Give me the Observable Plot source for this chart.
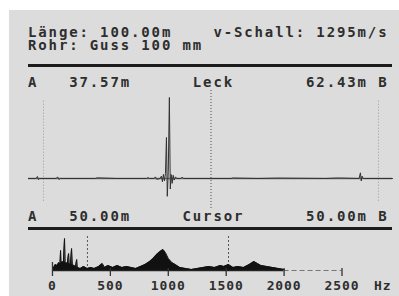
<!DOCTYPE html>
<html><head><meta charset="utf-8">
<script src="https://cdn.jsdelivr.net/npm/d3@7"></script>
<script src="https://cdn.jsdelivr.net/npm/@observablehq/plot@0.6"></script>
<style>
html,body{margin:0;padding:0;background:#fff;width:399px;height:296px;overflow:hidden;position:relative;}
#panel{position:absolute;left:9px;top:10px;width:390px;height:286px;background:#dcdcdc;}
.t{position:absolute;left:28px;font-family:"DejaVu Sans Mono",monospace;font-weight:bold;font-size:14px;line-height:14px;letter-spacing:1.87px;white-space:pre;color:#2e2e2e;}
.rule{position:absolute;left:28px;width:364px;height:3px;background:#1c1c1c;}
.plot{position:absolute;left:0;}
</style></head><body>
<div id="panel"></div>
<div class="t" style="top:26px;line-height:12.5px">Länge: 100.00m    v-Schall: 1295m/s
Rohr: Guss 100 mm</div>
<div class="rule" style="top:64px"></div>
<div class="t" style="top:75px">A   37.57m      Leck       62.43m B</div>
<div class="t" style="top:209px">A   50.00m     Cursor      50.00m B</div>
<div class="rule" style="top:227px"></div>
<div id="p1" class="plot" style="top:88px"></div>
<div id="p2" class="plot" style="top:230px"></div>
<script>
// Correlation trace: position along pipe (m) and amplitude
const waveM = [-4.48, -2.2, -1.8, -1.5, -1.2, 3.8, 4.2, 4.6, 5.0, 15.5, 16.0, 22.0, 28.5, 30.8, 31.2, 31.6, 33.0, 33.4, 33.8, 34.8, 35.2, 35.5, 35.8, 36.1, 36.4, 36.7, 36.95, 37.25, 37.57, 37.85, 38.1, 38.4, 38.7, 39.0, 39.4, 39.8, 41.0, 41.4, 41.8, 56.0, 56.4, 64.0, 70.0, 84.0, 88.0, 94.2, 94.6, 94.85, 95.1, 95.4, 104.18];
const waveV = [0, 0, 0.025, -0.015, 0, 0, 0.02, -0.012, 0, 0, 0.008, 0, 0, 0, 0.012, 0, 0, 0.02, -0.01, 0, 0.03, -0.04, 0.05, -0.03, 0.06, 0.506, -0.22, 0.09, 1.0, -0.13, 0.05, -0.06, 0.04, -0.02, 0.02, 0, 0, 0.018, 0, 0, 0.006, 0, 0.005, 0, 0.006, 0, 0.07, -0.03, 0.03, 0, 0];
const waveCursors = [0, 100];
const leakCursor = [50];

// Spectrum: frequency (Hz) and level
const specF = [0, 10, 25, 40, 55, 65, 70, 75, 85, 95, 104, 110, 120, 130, 139, 145, 155, 165, 172, 185, 200, 209, 215, 240, 270, 300, 330, 360, 400, 430, 450, 480, 520, 560, 600, 640, 680, 720, 760, 800, 840, 870, 900, 930, 955, 975, 1000, 1030, 1060, 1100, 1150, 1200, 1250, 1300, 1350, 1400, 1450, 1480, 1520, 1560, 1600, 1650, 1700, 1740, 1770, 1800, 1850, 1900, 1950, 2000];
const specA = [0, 3, 6, 5, 8, 6, 20, 7, 9, 8, 32, 9, 7, 8, 17, 7, 6, 22, 6, 5, 4, 11, 3, 2, 4, 2, 3, 2, 4, 7, 3, 5, 3, 5, 3, 4, 3, 2, 4, 6, 9, 12, 16, 19, 21, 18, 12, 8, 6, 3, 2, 1, 2, 3, 4, 3, 5, 4, 6, 3, 4, 3, 6, 9, 7, 5, 4, 3, 2, 1];
const specCursors = [302, 1520];
const tickValues = [0, 500, 1000, 1500, 2000, 2500];
const tickLabels = ["0", "500", "1000", "1500", "2000", "2500"];
const unitLabel = "Hz";

const wave = waveM.map((m, i) => ({m, v: waveV[i]}));
const spec = specF.map((f, i) => ({f, a: specA[i]}));
const ticks = tickValues.map((v, i) => ({v, label: tickLabels[i]}));

const p1 = Plot.plot({
  width: 399, height: 122, marginLeft: 28, marginRight: 7, marginTop: 0, marginBottom: 0,
  x: {domain: [-4.48, 104.18], axis: null},
  y: {domain: [-0.395, 1.111], axis: null},
  style: {background: "transparent", overflow: "visible"},
  marks: [
    Plot.ruleX(waveCursors, {y1: -0.28, y2: 0.96, stroke: "#9a9a9a", strokeDasharray: "1,2"}),
    Plot.ruleX(leakCursor, {y1: -0.37, y2: 1.11, stroke: "#4a4a4a", strokeDasharray: "1,2"}),
    Plot.ruleY([0], {stroke: "#6e6e6e", strokeWidth: 1.5}),
    Plot.line(wave, {x: "m", y: "v", stroke: "#333", strokeWidth: 1})
  ]
});
document.getElementById("p1").appendChild(p1);

const p2 = Plot.plot({
  width: 399, height: 66, marginLeft: 28, marginRight: 7, marginTop: 0, marginBottom: 0,
  x: {domain: [-207, 2936], axis: null},
  y: {domain: [-26, 40], axis: null},
  style: {background: "transparent", overflow: "visible", fontFamily: "DejaVu Sans Mono", letterSpacing: "0.9px"},
  marks: [
    Plot.ruleX(specCursors, {y1: 0, y2: 35, stroke: "#555", strokeDasharray: "2,2"}),
    Plot.areaY(spec, {x: "f", y: "a", fill: "#111"}),
    Plot.line(spec, {x: "f", y: "a", stroke: "#111", strokeWidth: 1}),
    Plot.ruleY([0], {x1: 0, x2: 2000, stroke: "#222", strokeWidth: 1.5}),
    Plot.ruleY([0], {x1: 2000, x2: 2500, stroke: "#777", strokeDasharray: "5,3"}),
    Plot.ruleX(tickValues.slice(1), {y1: 2, y2: -6, stroke: "#333", strokeWidth: 1.3}),
    Plot.ruleX([0], {y1: 8, y2: -6, stroke: "#333", strokeWidth: 1.3}),
    Plot.text(ticks, {x: "v", y: -15, text: "label", fontSize: 13, fontWeight: "bold", fill: "#2e2e2e", lineAnchor: "middle"}),
    Plot.text([unitLabel], {x: 2852, y: -15, text: d => d, fontSize: 13, fontWeight: "bold", fill: "#2e2e2e", lineAnchor: "middle"})
  ]
});
document.getElementById("p2").appendChild(p2);
</script>
</body></html>
